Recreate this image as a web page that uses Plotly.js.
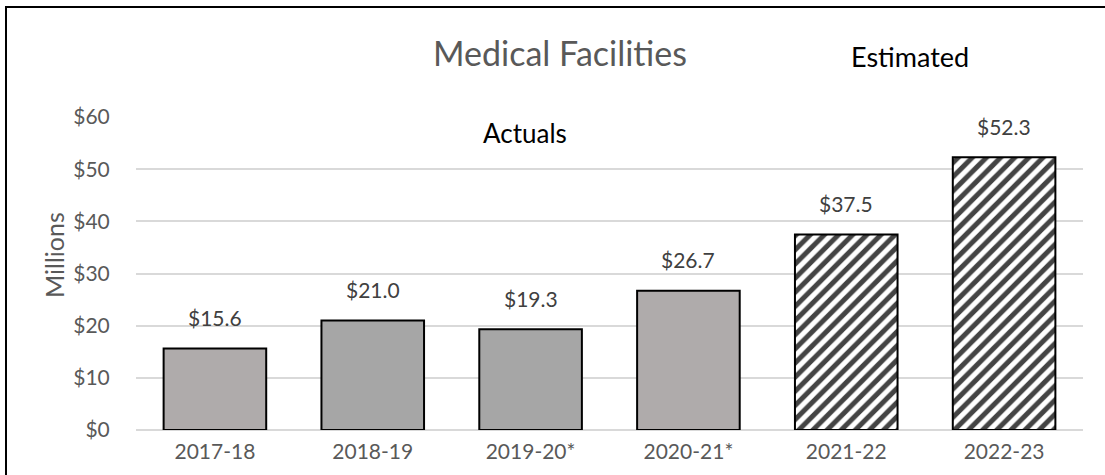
<!DOCTYPE html>
<html>
<head>
<meta charset="utf-8">
<script src="https://cdn.plot.ly/plotly-3.0.1.min.js"></script>
<style>
html,body{margin:0;padding:0;background:#fff;}
#wrap{position:relative;width:1105px;height:475px;overflow:hidden;}
#chart{position:absolute;left:0;top:0;width:1105px;height:475px;}
#frame{position:absolute;left:5px;top:6px;width:1200px;height:600px;border:2px solid #000;pointer-events:none;box-sizing:border-box;}
</style>
</head>
<body>
<div id="wrap"><div id="chart"></div><div id="frame"></div></div>
<script>
const categories = ["2017-18", "2018-19", "2019-20*", "2020-21*", "2021-22", "2022-23"];
const values = [15.6, 21.0, 19.3, 26.7, 37.5, 52.3];
const labels = ["$15.6", "$21.0", "$19.3", "$26.7", "$37.5", "$52.3"];
const isEstimate = [false, false, false, false, true, true];
const yTickVals = [0, 10, 20, 30, 40, 50, 60];
const yTickText = ["$0", "$10", "$20", "$30", "$40", "$50", "$60"];

const actualColors = ["#AFABAB", "#A6A6A6", "#A6A6A6", "#AFABAB"];
let ai = 0;
const fillColors = isEstimate.map(e => e ? "#FFFFFF" : actualColors[ai++]);

const font = "Lato, 'Open Sans', sans-serif";

const trace = {
  type: "bar",
  x: categories,
  y: values,
  width: 0.65,
  marker: {
    color: fillColors,
    line: {color: "#000000", width: 2},
    pattern: {
      shape: isEstimate.map(e => e ? "/" : ""),
      fgcolor: "#000000",
      fgopacity: 1,
      size: 10,
      solidity: 0.5,
      fillmode: "overlay"
    }
  },
  hoverinfo: "none"
};

const annotations = categories.map((c, i) => ({
  x: c, y: values[i], xref: "x", yref: "y",
  text: labels[i], showarrow: false,
  yanchor: "middle", yshift: 31,
  font: {family: font, size: 21, color: "#404040"}
}));
annotations.push({
  xref: "paper", yref: "paper", x: (525-136)/947, y: (430-133)/313,
  text: "Actuals", showarrow: false, xanchor: "center", yanchor: "middle",
  font: {family: font, size: 26, color: "#000000"}
});
annotations.push({
  xref: "paper", yref: "paper", x: (910-136)/947, y: (430-56)/313,
  text: "Estimated", showarrow: false, xanchor: "center", yanchor: "middle",
  font: {family: font, size: 27, color: "#000000"}
});
annotations.push({
  xref: "paper", yref: "paper", x: (54-136)/947, y: (430-255)/313,
  text: "Millions", showarrow: false, xanchor: "center", yanchor: "middle",
  textangle: -90,
  font: {family: font, size: 25, color: "#595959"}
});

const layout = {
  width: 1105, height: 475,
  margin: {l: 136, r: 22, t: 117, b: 45},
  paper_bgcolor: "rgba(0,0,0,0)",
  plot_bgcolor: "rgba(0,0,0,0)",
  showlegend: false,
  title: {
    text: "Medical Facilities",
    x: 560/1105, xanchor: "center",
    y: 1 - 54/475, yanchor: "middle",
    font: {family: font, size: 34, color: "#595959"}
  },
  xaxis: {
    type: "category",
    tickfont: {family: font, size: 21, color: "#595959"},
    showgrid: false, zeroline: false,
    showline: false,
    ticks: "outside", ticklen: 3, tickcolor: "rgba(0,0,0,0)"
  },
  yaxis: {
    range: [0, 60],
    tickvals: yTickVals, ticktext: yTickText,
    tickfont: {family: font, size: 21, color: "#595959"},
    showgrid: true, gridcolor: "#D9D9D9", gridwidth: 2,
    zeroline: true, zerolinecolor: "#D9D9D9", zerolinewidth: 2,
    showline: false,
    ticks: "outside", ticklen: 21, tickcolor: "rgba(0,0,0,0)"
  },
  annotations: annotations
};

Plotly.newPlot("chart", [trace], layout, {staticPlot: true, displayModeBar: false});
</script>
</body>
</html>
